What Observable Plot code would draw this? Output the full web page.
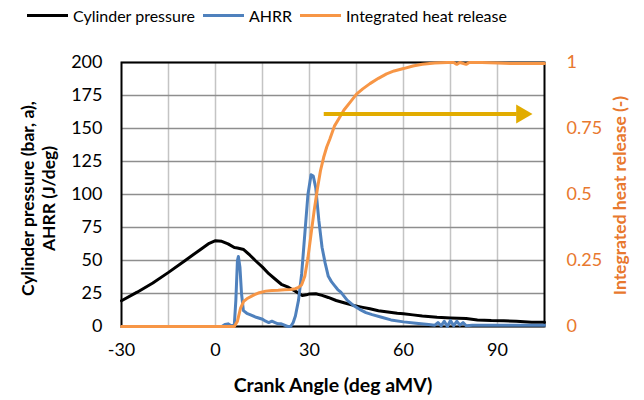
<!DOCTYPE html>
<html>
<head>
<meta charset="utf-8">
<script src="https://cdn.jsdelivr.net/npm/d3@7"></script>
<script src="https://cdn.jsdelivr.net/npm/@observablehq/plot@0.6"></script>
<style>
  html, body { margin: 0; padding: 0; background: #fff; }
  #wrap { width: 644px; height: 400px; font-family: Lato, "Open Sans", sans-serif; }
  #legend { position: relative; height: 32px; width: 644px; font-size: 16px; color: #000; }
  .item { position: absolute; top: 4px; display: flex; align-items: center; height: 22px; }
  .sw { width: 41px; height: 3px; margin-right: 5px; }
  svg { display: block; }
</style>
</head>
<body>
<div id="wrap">
  <div id="legend"></div>
  <div id="chart"></div>
</div>
<script>
// ---- data ----
const pressureAngle = [-30,-25,-20,-15,-10,-5,-2,0,2,4,6,7,9,11,12.7,15,17,19,21,23,24.5,26,27.7,29,30,32,34,36,38.5,41,44,47,49.3,52,55,58,60,63,66,70.7,75,80,83.6,88,92,96,100.9,105];
const pressureBar   = [19.5,26,33,41,49.5,58,63,65,64.5,62.6,59.8,59.5,58.3,54,50,45,40,36,32,30,28,26,23.5,24,24.7,24.8,23.6,22,19.7,18,16,14.5,13.4,12,11,10,9.6,8.8,8,7,6.5,6,5,4.5,4.3,4,3.3,3.3];

const ahrrAngle = [-30,0,2,3,4,5,6,6.5,7,7.3,7.8,8.3,8.9,10,11,13,15,16,17,18,19,20,21,22,23,24,24.8,25.5,26.5,27.5,28.5,29.5,30.5,31.2,32,33,34,35,36,37,38,39,40,42,44,46,48,50,53,56,60,64,68,70,71,72,73,74,75,76,77,78,79,80,82,85,90,95,100,105];
const ahrrJ     = [0,0,0,1.5,2,0.5,1,20,50,53,45,25,12,10,9,7,5.5,4,3,4,3,2,2,1,0,0,3,8,20,40,70,100,115,114,105,80,60,48,38,34,31,28,26,20,16,13,10.5,9,7,5,3.5,2.5,1.5,1,3,0.5,4,0,4.5,0.5,4,1,3,0.5,1,1,1,1,1,1];

const ihrAngle = [-30,6,7,8,9,10,12,14,16,18,20,22,24,25.5,26.5,27.5,28.5,29.5,30.5,31.5,32.5,33.5,34.5,35.5,36.5,38,39.5,41,43,45,47,49.3,52,54.6,57,60,63,66,70,74,76,77,78,80,81,85,90,95,100,105];
const ihrFrac  = [0,0,0.02,0.07,0.095,0.105,0.118,0.128,0.134,0.136,0.137,0.139,0.14,0.143,0.148,0.158,0.19,0.26,0.35,0.44,0.52,0.59,0.64,0.68,0.71,0.76,0.79,0.82,0.85,0.88,0.9,0.92,0.94,0.957,0.968,0.977,0.987,0.993,0.998,1.0,1.0,0.993,1.0,0.993,1.0,1.0,0.998,0.996,0.996,0.996];

const xTicks = [-30, 0, 30, 60, 90];
const xGrid = [-15, 0, 15, 30, 45, 60, 75, 90];
const yTicks = [0, 25, 50, 75, 100, 125, 150, 175, 200];
const ihrTicks = [0, 0.25, 0.5, 0.75, 1];
const ihrMax = 200; // right axis 0..1 maps to left 0..200

const seriesNames = ["Cylinder pressure", "AHRR", "Integrated heat release"];
const seriesColors = ["#000000", "#4F81BD", "#F79646"];
const arrowSpan = {x1: 34.7, x2: 99.3, y: 161};

const xTitle = "Crank Angle (deg aMV)";
const yTitle = "Cylinder pressure (bar, a),\nAHRR (J/deg)";
const y2Title = "Integrated heat release (-)";

// ---- tables ----
const pressure = pressureAngle.map((a, i) => ({a, v: pressureBar[i]}));
const ahrr = ahrrAngle.map((a, i) => ({a, v: ahrrJ[i]}));
const ihr = ihrAngle.map((a, i) => ({a, v: ihrFrac[i] * ihrMax}));

// ---- legend ----
const legendX = [27, 203, 300];
const legend = document.getElementById("legend");
seriesNames.forEach((name, i) => {
  const it = document.createElement("div");
  it.className = "item";
  it.style.left = legendX[i] + "px";
  it.innerHTML = `<div class="sw" style="background:${seriesColors[i]}"></div><span>${name}</span>`;
  legend.appendChild(it);
});

const orangeText = "#E8782E";
const arrowColor = "#E2AC00";

const chart = Plot.plot({
  width: 644,
  height: 368,
  marginLeft: 121,
  marginRight: 100,
  marginTop: 30,
  marginBottom: 74,
  x: {domain: [-30, 105]},
  y: {domain: [0, 200]},
  style: {fontFamily: "Lato, 'Open Sans', sans-serif", fontSize: "18px", color: "#000", background: "#fff"},
  marks: [
    Plot.gridX(xGrid, {stroke: "#c4c4c4", strokeOpacity: 1, strokeWidth: 1.5}),
    Plot.gridY(yTicks, {stroke: "#8e8e8e", strokeOpacity: 1, strokeWidth: 1.5}),
    Plot.axisX(xTicks, {tickSize: 0, tickPadding: 17, label: null, fontSize: 18, tickFormat: d => String(d)}),
    Plot.axisY(yTicks, {anchor: "left", tickSize: 0, tickPadding: 19, label: null, fontSize: 18, tickFormat: d => String(d)}),
    Plot.axisY(ihrTicks.map(t => t * ihrMax), {anchor: "right", tickSize: 0, tickPadding: 22, label: null, fontSize: 18,
      tickFormat: d => String(d / ihrMax), fill: orangeText, textAnchor: "start"}),
    Plot.frame({stroke: "#000", strokeWidth: 2}),
    Plot.line(pressure, {x: "a", y: "v", stroke: seriesColors[0], strokeWidth: 3, curve: "linear"}),
    Plot.line(ahrr, {x: "a", y: "v", stroke: seriesColors[1], strokeWidth: 3, curve: "linear"}),
    Plot.line(ihr, {x: "a", y: "v", stroke: seriesColors[2], strokeWidth: 3, curve: "linear"}),
    Plot.ruleY([arrowSpan], {y: "y", x1: "x1", x2: d => d.x2 - 3, stroke: arrowColor, strokeWidth: 4}),
    Plot.dot([arrowSpan], {x: "x2", y: "y", dx: -5, symbol: "triangle", rotate: 90, r: 7, fill: arrowColor, stroke: "none"}),
    Plot.text([xTitle], {frameAnchor: "bottom", dy: 59, lineAnchor: "middle", textAnchor: "middle", fontWeight: "bold", fontSize: 19.5}),
    Plot.text([yTitle], {frameAnchor: "left", dx: -84, dy: 4, rotate: -90, lineAnchor: "middle", textAnchor: "middle", fontWeight: "bold", fontSize: 17.5, lineHeight: 1.2}),
    Plot.text([y2Title], {frameAnchor: "right", dx: 76, dy: 1, rotate: -90, lineAnchor: "middle", textAnchor: "middle", fontWeight: "bold", fontSize: 17.5, fill: orangeText})
  ]
});
document.getElementById("chart").appendChild(chart);
</script>
</body>
</html>
